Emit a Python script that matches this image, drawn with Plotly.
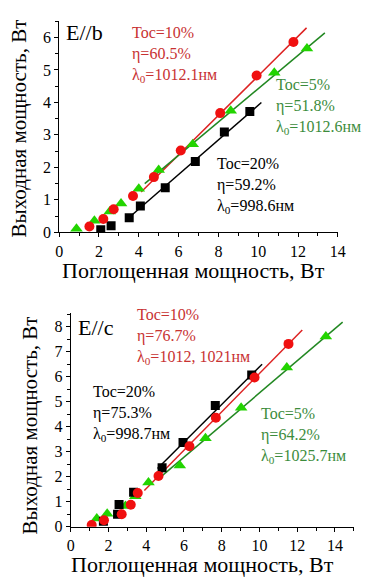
import plotly.graph_objects as go

# ---------------- Top panel (E//b) data ----------------
b_black_x = [2.09, 2.61, 3.52, 4.08, 5.33, 6.84, 8.30, 9.58]
b_black_y = [0.08, 0.20, 0.45, 0.81, 1.37, 2.18, 3.09, 3.72]
b_red_x = [1.52, 2.22, 2.74, 3.71, 4.76, 6.11, 8.09, 9.92, 11.77]
b_red_y = [0.18, 0.41, 0.71, 1.12, 1.70, 2.52, 3.67, 4.83, 5.86]
b_green_x = [0.87, 1.77, 2.54, 3.11, 4.00, 5.00, 6.71, 8.62, 10.81, 12.45]
b_green_y = [0.11, 0.36, 0.64, 0.89, 1.34, 1.92, 2.71, 3.74, 4.91, 5.66]
# linear fits: slope, threshold, x-extent
b_black_fit = dict(slope=0.533, x0=2.66, xs=[3.5, 10.16])
b_red_fit = dict(slope=0.608, x0=2.08, xs=[4.12, 12.43])
b_green_fit = dict(slope=0.513, x0=1.38, xs=[4.3, 13.35])

# ---------------- Bottom panel (E//c) data ----------------
c_black_x = [1.73, 2.48, 2.56, 3.33, 4.84, 5.95, 7.66, 9.59]
c_black_y = [0.22, 0.50, 0.89, 1.38, 2.36, 3.37, 4.85, 6.07]
c_red_x = [1.11, 1.76, 2.70, 3.18, 3.55, 4.65, 6.29, 7.69, 9.74, 11.54]
c_red_y = [0.07, 0.26, 0.50, 0.88, 1.35, 2.03, 3.22, 4.36, 5.97, 7.31]
c_green_x = [1.38, 1.93, 2.90, 3.42, 4.12, 5.78, 7.14, 9.03, 11.45, 13.52]
c_green_y = [0.33, 0.52, 0.83, 1.22, 1.77, 2.45, 3.54, 4.76, 6.37, 7.61]
c_black_fit = dict(slope=0.753, x0=1.51, xs=[4.6, 10.14])
c_red_fit = dict(slope=0.767, x0=2.01, xs=[3.9, 12.27])
c_green_fit = dict(slope=0.642, x0=1.67, xs=[4.6, 14.41])

x_title = "Поглощенная мощность, Вт"
y_title = "Выходная мощность, Вт"

FONT = "Liberation Serif, Times New Roman, DejaVu Serif, serif"
RED_M, RED_L, RED_T = "#f01010", "#dd2222", "#c83232"
GRN_M, GRN_L, GRN_T = "#22d400", "#228822", "#3c8c3c"
BLK = "#000000"

fig = go.Figure()


def fit_line(f):
    return f["xs"], [f["slope"] * (x - f["x0"]) for x in f["xs"]]


def add_panel(xa, ya, blk, red, grn, fits):
    (bx, by), (rx, ry), (gx, gy) = blk, red, grn
    for f, col in zip(fits, [BLK, RED_L, GRN_L]):
        lx, ly = fit_line(f)
        fig.add_trace(go.Scatter(x=lx, y=ly, mode="lines", xaxis=xa, yaxis=ya,
                                 line=dict(color=col, width=1.5), showlegend=False,
                                 hoverinfo="skip"))
    fig.add_trace(go.Scatter(x=gx, y=gy, mode="markers", xaxis=xa, yaxis=ya,
                             marker=dict(symbol="triangle-up", size=11, color=GRN_M),
                             showlegend=False))
    fig.add_trace(go.Scatter(x=bx, y=by, mode="markers", xaxis=xa, yaxis=ya,
                             marker=dict(symbol="square", size=9, color=BLK),
                             showlegend=False))
    fig.add_trace(go.Scatter(x=rx, y=ry, mode="markers", xaxis=xa, yaxis=ya,
                             marker=dict(symbol="circle", size=10, color=RED_M),
                             showlegend=False))


add_panel("x", "y", (b_black_x, b_black_y), (b_red_x, b_red_y), (b_green_x, b_green_y),
          [b_black_fit, b_red_fit, b_green_fit])
add_panel("x2", "y2", (c_black_x, c_black_y), (c_red_x, c_red_y), (c_green_x, c_green_y),
          [c_black_fit, c_red_fit, c_green_fit])

W, H = 370, 582
axis_common = dict(showline=True, linecolor="black", linewidth=1, ticks="outside",
                   ticklen=4, tickcolor="black", showgrid=False, zeroline=False,
                   tickfont=dict(family=FONT, size=16, color="black"), mirror=False)

fig.update_layout(
    width=W, height=H, autosize=False,
    margin=dict(l=0, r=0, t=0, b=0),
    paper_bgcolor="white", plot_bgcolor="white",
    font=dict(family=FONT, color="black"),
    xaxis=dict(axis_common, domain=[57 / W, 345 / W], range=[0, 14], dtick=2,
               minor=dict(dtick=1, ticklen=3, ticks="outside", tickcolor="black"),
               anchor="y"),
    yaxis=dict(axis_common, domain=[1 - 236 / H, 1 - 21.5 / H], range=[0, 6.5], dtick=1,
               minor=dict(dtick=0.5, ticklen=3, ticks="outside", tickcolor="black"),
               anchor="x"),
    xaxis2=dict(axis_common, domain=[69 / W, 361.5 / W], range=[0, 15], dtick=2,
                tickvals=[0, 2, 4, 6, 8, 10, 12, 14],
                minor=dict(dtick=1, ticklen=3, ticks="outside", tickcolor="black"),
                anchor="y2"),
    yaxis2=dict(axis_common, domain=[1 - 535 / H, 1 - 317.8 / H], range=[0, 8.55], dtick=1,
                minor=dict(dtick=0.5, ticklen=3, ticks="outside", tickcolor="black"),
                anchor="x2"),
)

TXT = 16


def ann(text, x, y, xref, yref, color, size=TXT, xanchor="left", yanchor="middle", **kw):
    fig.add_annotation(text=text, x=x, y=y, xref=xref, yref=yref, showarrow=False,
                       xanchor=xanchor, yanchor=yanchor, align="left", borderpad=0,
                       font=dict(family=FONT, size=size, color=color), **kw)


# Top panel annotations
ann("E//b", 0.29, 6.15, "x", "y", BLK, size=22)
ann("Toc=10%<br>η=60.5%<br>λ<sub>0</sub>=1012.1нм", 3.6, 5.48, "x", "y", RED_T)
ann("Toc=5%<br>η=51.8%<br>λ<sub>0</sub>=1012.6нм", 10.84, 3.88, "x", "y", GRN_T)
ann("Toc=20%<br>η=59.2%<br>λ<sub>0</sub>=998.6нм", 7.88, 1.45, "x", "y", BLK)

# Bottom panel annotations
ann("E//c", 0.31, 7.95, "x2", "y2", BLK, size=22)
ann("Toc=10%<br>η=76.7%<br>λ<sub>0</sub>=1012, 1021нм", 3.44, 7.6, "x2", "y2", RED_T)
ann("Toc=20%<br>η=75.3%<br>λ<sub>0</sub>=998.7нм", 1.13, 4.53, "x2", "y2", BLK)
ann("Toc=5%<br>η=64.2%<br>λ<sub>0</sub>=1025.7нм", 10.05, 3.66, "x2", "y2", GRN_T)

# Axis titles
ann(x_title, 196 / W, 1 - 275 / H, "paper", "paper", BLK, size=22, xanchor="center")
ann(x_title, 205 / W, 1 - 573.5 / H, "paper", "paper", BLK, size=22, xanchor="center")
ann(y_title, 16 / W, 1 - 130 / H, "paper", "paper", BLK, size=21, xanchor="center",
    textangle=-90)
ann(y_title, 27 / W, 1 - 432 / H, "paper", "paper", BLK, size=21, xanchor="center",
    textangle=-90)

fig.write_html("out.html")
